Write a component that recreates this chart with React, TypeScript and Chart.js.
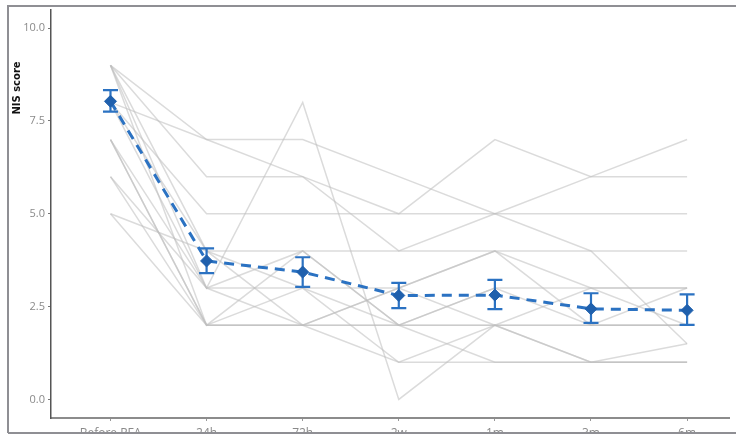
import React, { useEffect, useRef } from "react";
import { Chart, registerables } from "chart.js";

Chart.register(...registerables);

const categories = ["Before RFA", "24h", "72h", "2w", "1m", "3m", "6m"];
const yTicks = [0, 2.5, 5, 7.5, 10];

const meanScore = [8.03, 3.73, 3.43, 2.8, 2.81, 2.44, 2.4];
const ciLow = [7.75, 3.4, 3.03, 2.46, 2.43, 2.06, 2.01];
const ciHigh = [8.33, 4.07, 3.83, 3.14, 3.22, 2.86, 2.83];

const patient01 = [9, 7, 7, 6, 5, 5, 5];
const patient02 = [8, 7, 6, 5, 7, 6, 6];
const patient03 = [9, 6, 6, 4, 5, 6, 7];
const patient04 = [8, 5, 5, 5, 5, 4, 4];
const patient05 = [9, 4, 4, 4, 4, 3, 3];
const patient06 = [9, 3, 8, 0, 2, 1, 1.5];
const patient07 = [7, 3, 3, 3, 4, 4, 1.5];
const patient08 = [7, 2, 2, 2, 2, 2, 2];
const patient09 = [6, 2, 3, 1, 1, 1, 1];
const patient10 = [5, 2, 2, 2, 1, 1, 1];
const patient11 = [8, 4, 2, 3, 4, 2, 2];
const patient12 = [8, 3, 4, 2, 3, 2, 3];
const patient13 = [7, 2, 2, 1, 2, 1, 1];
const patient14 = [6, 3, 2, 3, 2, 2, 2];
const patient15 = [9, 2, 4, 2, 3, 3, 3];
const patient16 = [5, 4, 3, 2, 2, 3, 2];

const patients = [
  patient01, patient02, patient03, patient04, patient05, patient06, patient07, patient08,
  patient09, patient10, patient11, patient12, patient13, patient14, patient15, patient16,
];

const BLUE = "#2b72c2";
const BLUE_DARK = "#1f60ad";

const toPoints = (arr: number[]) => arr.map((y, i) => ({ x: i, y }));

const overlayPlugin = {
  id: "overlay",
  beforeDatasetDraw(chart: any, args: any) {
    if (args.index !== 0) return;
    const { ctx, scales } = chart;
    const xs = scales.x;
    const ys = scales.y;
    ctx.save();
    ctx.strokeStyle = BLUE;
    ctx.lineWidth = 2.2;
    ctx.setLineDash([]);
    const cap = 7.5;
    for (let i = 0; i < categories.length; i++) {
      const px = xs.getPixelForValue(i);
      const lo = ys.getPixelForValue(ciLow[i]);
      const hi = ys.getPixelForValue(ciHigh[i]);
      ctx.beginPath();
      ctx.moveTo(px, lo);
      ctx.lineTo(px, hi);
      ctx.moveTo(px - cap, lo);
      ctx.lineTo(px + cap, lo);
      ctx.moveTo(px - cap, hi);
      ctx.lineTo(px + cap, hi);
      ctx.stroke();
    }
    ctx.restore();
  },
  afterDraw(chart: any) {
    const { ctx, width, height } = chart;
    ctx.save();
    ctx.translate(17, 88);
    ctx.rotate(-Math.PI / 2);
    ctx.font = "bold 10px 'DejaVu Sans'";
    ctx.fillStyle = "#111";
    ctx.textAlign = "center";
    ctx.textBaseline = "middle";
    ctx.fillText("NIS score", 0, 0);
    ctx.restore();

    ctx.save();
    ctx.fillStyle = "#ffffff";
    ctx.fillRect(0, 434, width, height - 434);
    ctx.fillRect(0, 0, 7, height);
    ctx.fillRect(0, 0, width, 5);
    ctx.strokeStyle = "#8f8f94";
    ctx.lineWidth = 2;
    ctx.beginPath();
    ctx.moveTo(8, 433);
    ctx.lineTo(8, 6);
    ctx.lineTo(width, 6);
    ctx.moveTo(8, 433);
    ctx.lineTo(width, 433);
    ctx.stroke();
    ctx.restore();
  },
};

export default function App() {
  const ref = useRef<HTMLCanvasElement | null>(null);

  useEffect(() => {
    if (!ref.current) return;
    const greyDatasets = patients.map((p, k) => ({
      label: "patient " + (k + 1),
      data: toPoints(p),
      borderColor: "rgba(190,190,190,0.55)",
      borderWidth: 1.5,
      pointRadius: 0,
      tension: 0,
      fill: false,
    }));
    const chart = new Chart(ref.current, {
      type: "line",
      data: {
        datasets: [
          {
            label: "Mean",
            data: toPoints(meanScore),
            borderColor: BLUE,
            borderWidth: 3,
            borderDash: [10, 7],
            pointStyle: "rectRot",
            pointRadius: 6,
            pointBackgroundColor: BLUE_DARK,
            pointBorderColor: BLUE_DARK,
            pointBorderWidth: 1,
            tension: 0,
            fill: false,
          },
          ...greyDatasets,
        ],
      },
      options: {
        animation: false,
        responsive: false,
        devicePixelRatio: 1,
        layout: { padding: { top: 6, left: 0, right: 0, bottom: 0 } },
        plugins: { legend: { display: false }, tooltip: { enabled: false }, title: { display: false } },
        scales: {
          x: {
            type: "linear",
            min: -0.619,
            max: 6.436,
            afterFit: (s: any) => {
              s.height = 19;
            },
            afterBuildTicks: (s: any) => {
              s.ticks = categories.map((_, i) => ({ value: i }));
            },
            grid: { display: true, drawOnChartArea: false, drawTicks: true, tickLength: 3, color: "#999" },
            border: { display: true, color: "#8c8c8c", width: 2 },
            ticks: {
              callback: (v: any) => categories[Math.round(Number(v))] ?? "",
              font: { family: "'Open Sans'", size: 12 },
              color: "#8a8a8a",
              padding: 5,
              maxRotation: 0,
              autoSkip: false,
            },
          },
          y: {
            type: "linear",
            min: -0.5,
            max: 10.5,
            afterFit: (s: any) => {
              s.width = 51;
            },
            afterBuildTicks: (s: any) => {
              s.ticks = yTicks.map((v) => ({ value: v }));
            },
            grid: { display: true, drawOnChartArea: false, drawTicks: true, tickLength: 3, color: "#777" },
            border: { display: true, color: "#555", width: 1.5 },
            ticks: {
              callback: (v: any) => Number(v).toFixed(1),
              font: { family: "'Open Sans'", size: 11 },
              color: "#8a8a8a",
              padding: 3,
            },
          },
        },
      },
      plugins: [overlayPlugin],
    } as any);
    return () => chart.destroy();
  }, []);

  return (
    <div style={{ position: "absolute", left: 0, top: 0, width: 736, height: 437, background: "#fff" }}>
      <canvas ref={ref} width={736} height={437} style={{ display: "block", width: 736, height: 437 }} />
    </div>
  );
}
